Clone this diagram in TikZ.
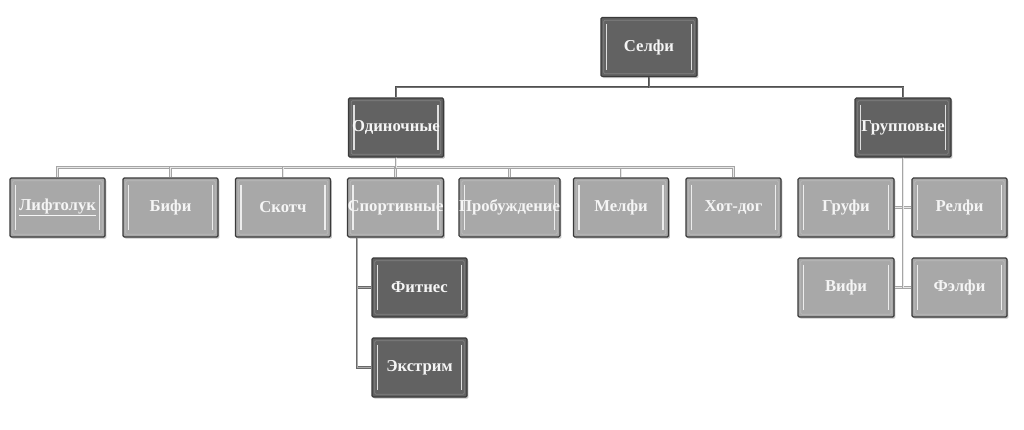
\documentclass[tikz,border=0pt]{standalone}
\usepackage{fontspec}
\setmainfont{Liberation Serif}
\usetikzlibrary{shadows}

\begin{document}
\begin{tikzpicture}[x=0.75pt,y=-0.75pt,
  box/.style={draw=borderColor,line width=0.9pt,rounded corners=1pt,minimum width=71.25pt,minimum height=44.25pt,
    inner sep=0pt,text=textColor,font=\fontsize{12.5}{14}\selectfont\bfseries,
    drop shadow={shadow xshift=1.1pt,shadow yshift=-1.3pt,opacity=0.45},
    path picture={
      \draw[white,opacity=0.8,line width=1.1pt]
        ([xshift=4pt,yshift=-5pt]path picture bounding box.north west) -- ([xshift=4pt,yshift=5pt]path picture bounding box.south west)
        ([xshift=-4pt,yshift=-5pt]path picture bounding box.north east) -- ([xshift=-4pt,yshift=5pt]path picture bounding box.south east);
      \draw[white,opacity=0.2,line width=0.6pt]
        ([xshift=2pt,yshift=-2pt]path picture bounding box.north west) rectangle ([xshift=-2pt,yshift=2pt]path picture bounding box.south east);
    }},
  darkbox/.style={box,fill=darkFill},
  lightbox/.style={box,fill=lightFill},
  linkone/.style={draw=lineDark,double=lineDarkIn,line width=0.7pt,double distance=0.6pt},
  linktwo/.style={draw=lineLight,double=lineLightIn,line width=0.7pt,double distance=0.6pt},
  linksub/.style={draw=lineMid,double=lineMidIn,line width=0.7pt,double distance=0.6pt}]
\definecolor{darkFill}{RGB}{98,98,98}
\definecolor{lightFill}{RGB}{168,168,168}
\definecolor{borderColor}{RGB}{58,58,58}
\definecolor{textColor}{RGB}{245,245,245}
\definecolor{lineDark}{RGB}{80,80,80}
\definecolor{lineDarkIn}{RGB}{115,115,115}
\definecolor{lineLight}{RGB}{165,165,165}
\definecolor{lineLightIn}{RGB}{232,232,232}
\definecolor{lineMid}{RGB}{105,105,105}
\definecolor{lineMidIn}{RGB}{170,170,170}
\path[use as bounding box,fill=white] (0,0) rectangle (1024,429);

% root and first level
\node[darkbox,minimum width=72pt] (selfi) at (649,47) {Селфи};
\node[darkbox] (odin) at (396,127.5) {Одиночные};
\node[darkbox,minimum width=72pt] (grup) at (903,127.5) {Групповые};

% single selfies
\node[lightbox] (lift) at ( 57.5,207.5) {\underline{Лифтолук}};
\node[lightbox] (bifi) at (170.5,207.5) {Бифи};
\node[lightbox] (skotch) at (283.0,207.5) {Скотч};
\node[lightbox] (sport) at (395.5,207.5) {Спортивные};
\node[lightbox] (probu) at (509.5,207.5) {Пробуждение};
\node[lightbox] (melfi) at (621.0,207.5) {Мелфи};
\node[lightbox] (hotdog) at (733.5,207.5) {Хот-дог};

% sport selfies
\node[darkbox] (fitnes) at (419.5,287.5) {Фитнес};
\node[darkbox] (extrim) at (419.5,367.5) {Экстрим};

% group selfies
\node[lightbox,minimum width=72pt] (grufi) at (846.0,207.5) {Груфи};
\node[lightbox] (relfi) at (959.5,207.5) {Релфи};
\node[lightbox,minimum width=72pt] (vifi) at (846.0,287.5) {Вифи};
\node[lightbox] (felfi) at (959.5,287.5) {Фэлфи};

% connectors
\draw[linkone] (selfi.south) -- ++(0,10) -| (odin.north);
\draw[linkone] (selfi.south) -- ++(0,10) -| (grup.north);
\foreach \n in {lift,bifi,skotch,sport,probu,melfi,hotdog}
  \draw[linktwo] (odin.south) -- ++(0,10) -| (\n.north);
\coordinate (sportline) at ([xshift=7.5pt]sport.south west);
\draw[linksub] (sportline) |- (fitnes.west);
\draw[linksub] (sportline) |- (extrim.west);
\draw[linktwo] (grup.south) |- (grufi.east);
\draw[linktwo] (grup.south) |- (relfi.west);
\draw[linktwo] (grup.south) |- (vifi.east);
\draw[linktwo] (grup.south) |- (felfi.west);
\end{tikzpicture}
\end{document}
